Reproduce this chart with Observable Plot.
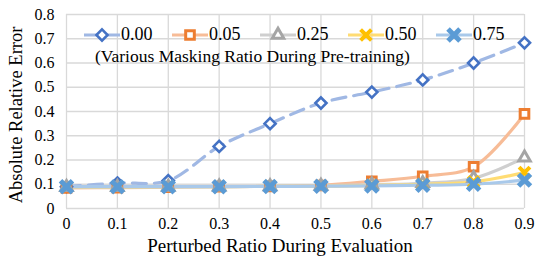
<!DOCTYPE html>
<html>
<head>
<meta charset="utf-8">
<script src="https://cdn.jsdelivr.net/npm/d3@7"></script>
<script src="https://cdn.jsdelivr.net/npm/@observablehq/plot@0.6"></script>
<style>
  html, body { margin: 0; padding: 0; background: #fff; }
  #wrap { position: relative; width: 535px; height: 259px; font-family: "Liberation Serif", "Times New Roman", serif; color: #000; }
  #legend { position: absolute; left: 84px; top: 24px; display: flex; font-size: 18px; }
  .item { display: flex; align-items: center; width: 88px; }
  .item span { margin-left: 1px; }
  #sub { position: absolute; left: 95px; top: 46px; font-size: 17.5px; white-space: nowrap; }
  #xtitle { position: absolute; left: 0; width: 560px; top: 236px; line-height: 19px; text-align: center; font-size: 19px; white-space: nowrap; }
  #ytitle { position: absolute; left: 16px; top: 115px; line-height: 19px; font-size: 18.5px; white-space: nowrap; transform: translate(-50%, -50%) rotate(-90deg); }
</style>
</head>
<body>
<div id="wrap"><div id="chart"></div><div id="legend"></div><div id="sub"></div><div id="xtitle"></div><div id="ytitle"></div></div>
<script>
const ratios = [0, 0.1, 0.2, 0.3, 0.4, 0.5, 0.6, 0.7, 0.8, 0.9];
const seriesNames = ["0.00", "0.05", "0.25", "0.50", "0.75"];
const s000 = [0.090, 0.105, 0.115, 0.256, 0.350, 0.435, 0.480, 0.530, 0.600, 0.683];
const s005 = [0.085, 0.086, 0.088, 0.090, 0.091, 0.095, 0.112, 0.133, 0.172, 0.390];
const s025 = [0.088, 0.088, 0.089, 0.090, 0.091, 0.093, 0.098, 0.104, 0.125, 0.210];
const s050 = [0.089, 0.089, 0.090, 0.090, 0.091, 0.092, 0.095, 0.100, 0.110, 0.148];
const s075 = [0.090, 0.090, 0.090, 0.090, 0.091, 0.092, 0.093, 0.096, 0.100, 0.117];
const yTicks = [0, 0.1, 0.2, 0.3, 0.4, 0.5, 0.6, 0.7, 0.8];
const xTicks = ratios;
const subtitle = "(Various Masking Ratio During Pre-training)";
const xTitle = "Perturbed Ratio During Evaluation";
const yTitle = "Absolute Relative Error";

const values = [s000, s005, s025, s050, s075];
const styles = [
  {line: "#a0b8e4", mark: "#4472c4", symbol: "diamond2", fill: "white", r: 5, sw: 2.6, dash: "14,8"},
  {line: "#f7bc97", mark: "#ed7d31", symbol: "square2", fill: "white", r: 5.5, sw: 3, dash: null},
  {line: "#cfcfcf", mark: "#a5a5a5", symbol: "triangle2", fill: "white", r: 5.5, sw: 3, dash: null},
  {line: "#ffdc73", mark: "#ffc000", symbol: "times", fill: "none", r: 5, sw: 4, dash: null},
  {line: "#a9c9ea", mark: "#5b9bd5", symbol: "times", fill: "none", r: 5.5, sw: 5, dash: null}
];
const fmt = d => d === 0 ? "0" : d3.format(".1f")(d);
const serif = "'Liberation Serif', 'Times New Roman', serif";

const marks = [
  Plot.gridX(xTicks, {stroke: "#d9d9d9", strokeOpacity: 1, strokeWidth: 1.3}),
  Plot.gridY(yTicks, {stroke: "#d9d9d9", strokeOpacity: 1, strokeWidth: 1.3}),
  Plot.axisX({ticks: xTicks, tickSize: 0, tickPadding: 9, tickFormat: fmt, label: null, fontSize: 16, fill: "#000"}),
  Plot.axisY({ticks: yTicks, tickSize: 0, tickPadding: 12, tickFormat: fmt, label: null, fontSize: 16, fill: "#000"})
];
values.forEach((vals, i) => {
  const st = styles[i];
  const data = ratios.map((x, j) => ({x, y: vals[j]}));
  marks.push(Plot.line(data, {x: "x", y: "y", curve: "catmull-rom", stroke: st.line, strokeWidth: 3.2, strokeDasharray: st.dash || undefined}));
});
values.forEach((vals, i) => {
  const st = styles[i];
  const data = ratios.map((x, j) => ({x, y: vals[j]}));
  marks.push(Plot.dot(data, {x: "x", y: "y", symbol: () => st.symbol, r: st.r, stroke: st.mark, strokeWidth: st.sw, fill: st.fill}));
});

const chart = Plot.plot({
  width: 535, height: 259,
  marginLeft: 66, marginRight: 11, marginTop: 14, marginBottom: 51,
  style: {background: "white", overflow: "visible", fontFamily: serif},
  x: {domain: [0, 0.9], label: null},
  y: {domain: [0, 0.8], label: null},
  symbol: {type: "identity"},
  marks
});
chart.style.display = "block";
chart.style.fontFamily = serif;
chart.setAttribute("font-family", serif);
d3.select(chart).selectAll("g, text").attr("font-family", serif).style("font-family", serif).attr("font-variant", null).style("font-variant", "normal");
document.getElementById("chart").appendChild(chart);

const legend = document.getElementById("legend");
seriesNames.forEach((name, i) => {
  const st = styles[i];
  const item = document.createElement("div");
  item.className = "item";
  const sym = d3.symbol(
    st.symbol === "diamond2" ? d3.symbolDiamond2 : st.symbol === "square2" ? d3.symbolSquare2 : st.symbol === "triangle2" ? d3.symbolTriangle2 : d3.symbolTimes,
    Math.PI * st.r * st.r
  )();
  item.innerHTML = `<svg width="36" height="20" viewBox="0 0 36 20">
    <line x1="0" y1="10" x2="36" y2="10" stroke="${st.line}" stroke-width="3.2"/>
    <path d="${sym}" transform="translate(18,10)" fill="${st.fill}" stroke="${st.mark}" stroke-width="${st.sw}"/>
  </svg><span>${name}</span>`;
  legend.appendChild(item);
});
document.getElementById("sub").textContent = subtitle;
document.getElementById("xtitle").textContent = xTitle;
document.getElementById("ytitle").textContent = yTitle;
</script>
</body>
</html>
